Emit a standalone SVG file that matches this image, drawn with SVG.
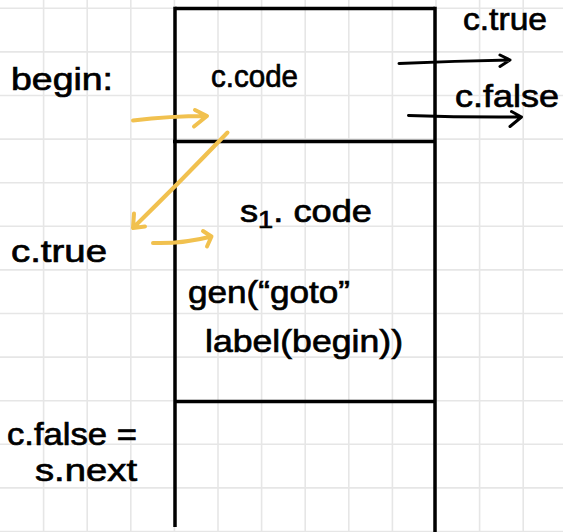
<svg xmlns="http://www.w3.org/2000/svg" width="563" height="532" viewBox="0 0 563 532">
  <defs>
    <style>
      .grid line { stroke: #e6e6e6; stroke-width: 1.6; }
      .box line { stroke: #000; stroke-width: 3.5; stroke-linecap: butt; }
      .ink { fill: none; stroke: #000; stroke-width: 3; stroke-linecap: round; stroke-linejoin: round; }
      .gold { fill: none; stroke: #f1c14f; stroke-width: 4; stroke-linecap: round; stroke-linejoin: round; }
      text { font-family: "Liberation Sans", "DejaVu Sans", sans-serif; fill: #000; stroke: #000; stroke-width: 0.7; font-size: 32px; }
    </style>
  </defs>

  <rect width="563" height="532" fill="#fff"/>

  <!-- graph-paper background -->
  <g class="grid" id="grid">
    <line x1="43.6" y1="0" x2="43.6" y2="532"/>
    <line x1="87.2" y1="0" x2="87.2" y2="532"/>
    <line x1="130.8" y1="0" x2="130.8" y2="532"/>
    <line x1="174.4" y1="0" x2="174.4" y2="532"/>
    <line x1="218" y1="0" x2="218" y2="532"/>
    <line x1="261.6" y1="0" x2="261.6" y2="532"/>
    <line x1="305.2" y1="0" x2="305.2" y2="532"/>
    <line x1="348.8" y1="0" x2="348.8" y2="532"/>
    <line x1="392.4" y1="0" x2="392.4" y2="532"/>
    <line x1="436" y1="0" x2="436" y2="532"/>
    <line x1="479.6" y1="0" x2="479.6" y2="532"/>
    <line x1="523.2" y1="0" x2="523.2" y2="532"/>
    <line x1="0" y1="8.3" x2="563" y2="8.3"/>
    <line x1="0" y1="51.9" x2="563" y2="51.9"/>
    <line x1="0" y1="95.5" x2="563" y2="95.5"/>
    <line x1="0" y1="139.1" x2="563" y2="139.1"/>
    <line x1="0" y1="182.7" x2="563" y2="182.7"/>
    <line x1="0" y1="226.3" x2="563" y2="226.3"/>
    <line x1="0" y1="269.9" x2="563" y2="269.9"/>
    <line x1="0" y1="313.5" x2="563" y2="313.5"/>
    <line x1="0" y1="357.1" x2="563" y2="357.1"/>
    <line x1="0" y1="400.7" x2="563" y2="400.7"/>
    <line x1="0" y1="444.3" x2="563" y2="444.3"/>
    <line x1="0" y1="487.9" x2="563" y2="487.9"/>
    <line x1="0" y1="531.5" x2="563" y2="531.5"/>
  </g>

  <!-- code layout column -->
  <g class="box" id="code-column">
    <line x1="175" y1="8.5" x2="435" y2="8.5"/>
    <line x1="175" y1="6.8" x2="175" y2="527"/>
    <line x1="435" y1="6.8" x2="435" y2="532"/>
    <line x1="173" y1="141.5" x2="435" y2="141.5"/>
    <line x1="175" y1="401.5" x2="435" y2="401.5"/>
  </g>

  <g id="block-c-code">
    <text x="211" y="87" font-size="34" textLength="87" lengthAdjust="spacingAndGlyphs">c.code</text>
  </g>

  <g id="block-s1-code">
    <text x="240" y="222" font-size="37" textLength="132" lengthAdjust="spacingAndGlyphs">s<tspan font-size="24" dy="6">1</tspan><tspan dy="-6">. code</tspan></text>
    <text x="188" y="303" font-size="36" textLength="162" lengthAdjust="spacingAndGlyphs">gen(“goto”</text>
    <text x="205" y="352" font-size="33" textLength="198" lengthAdjust="spacingAndGlyphs">label(begin))</text>
  </g>

  <g id="label-begin">
    <text x="11" y="90" font-size="37" textLength="102" lengthAdjust="spacingAndGlyphs">begin:</text>
  </g>

  <g id="label-c-true-left">
    <text x="11" y="262" font-size="33" textLength="96" lengthAdjust="spacingAndGlyphs">c.true</text>
  </g>

  <g id="label-c-false-next">
    <text x="7" y="445" font-size="36" textLength="130" lengthAdjust="spacingAndGlyphs">c.false =</text>
    <text x="35" y="481" font-size="31" textLength="102" lengthAdjust="spacingAndGlyphs">s.next</text>
  </g>

  <g id="label-c-true-exit">
    <text x="463" y="30" font-size="31" textLength="84" lengthAdjust="spacingAndGlyphs">c.true</text>
  </g>

  <g id="label-c-false-exit">
    <text x="455" y="107" font-size="35" textLength="104" lengthAdjust="spacingAndGlyphs">c.false</text>
  </g>

  <!-- connectors -->
  <g id="connectors">
    <path class="ink" d="M399 63.5 Q455 61 510 60 M500 55 L510 60 L500 66.5"/>
    <path class="ink" d="M408.5 115.5 Q465 117.5 521.5 117 M511.5 111.5 L521.5 117 L510 126.5"/>
    <path class="gold" d="M133 120.5 Q170 116 206.5 116 M195 110 L207 116 L194 126.5"/>
    <path class="gold" d="M227.5 132.5 Q180 182 133 228 M134 213.5 L133 228 L145 226.5"/>
    <path class="gold" d="M153 243 Q182 244 211.5 236.5 M203 231 L211.5 236.5 L207 246.5"/>
  </g>
</svg>
